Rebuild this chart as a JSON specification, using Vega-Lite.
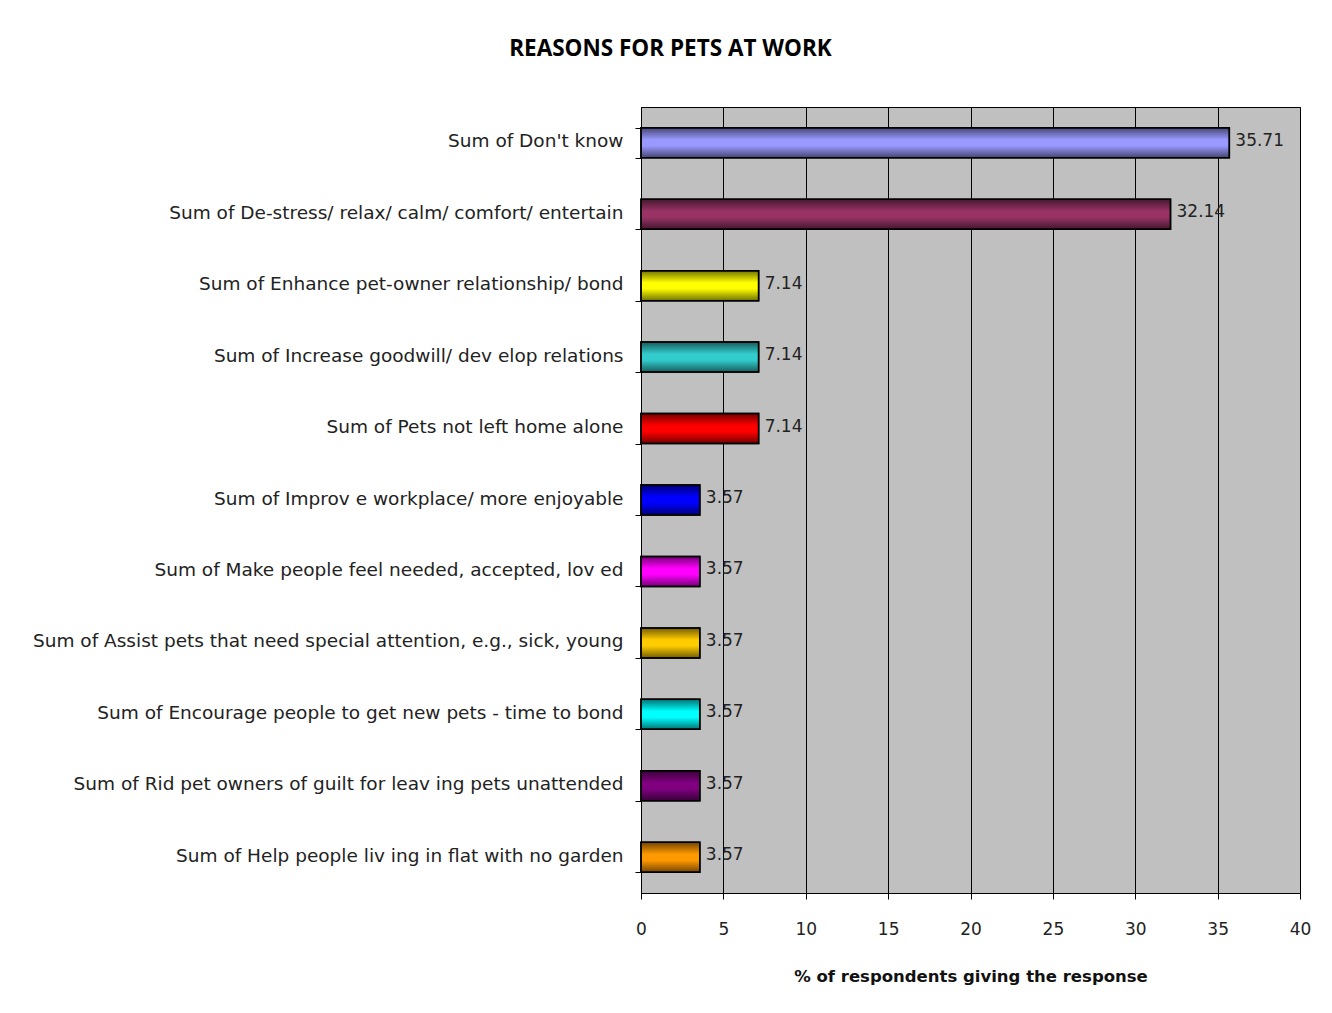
{
  "$schema": "https://vega.github.io/schema/vega-lite/v6.json",
  "autosize": {"type": "none"},
  "width": 659,
  "height": 786,
  "padding": {"left": 641, "top": 107, "right": 32, "bottom": 120},
  "background": "white",
  "title": {
    "text": "REASONS FOR PETS AT WORK",
    "font": "Open Sans",
    "fontSize": 22.5,
    "fontWeight": "bold",
    "color": "#000000",
    "anchor": "middle",
    "dx": -300,
    "offset": 38
  },
  "data": {
    "values": [
      {"reason": "Sum of Don't know", "pct": 35.71},
      {"reason": "Sum of De-stress/ relax/ calm/ comfort/ entertain", "pct": 32.14},
      {"reason": "Sum of Enhance pet-owner relationship/ bond", "pct": 7.14},
      {"reason": "Sum of Increase goodwill/ dev elop relations", "pct": 7.14},
      {"reason": "Sum of Pets not left home alone", "pct": 7.14},
      {"reason": "Sum of Improv e workplace/ more enjoyable", "pct": 3.57},
      {"reason": "Sum of Make people feel needed, accepted, lov ed", "pct": 3.57},
      {"reason": "Sum of Assist pets that need special attention, e.g., sick, young", "pct": 3.57},
      {"reason": "Sum of Encourage people to get new pets - time to bond", "pct": 3.57},
      {"reason": "Sum of Rid pet owners of guilt for leav ing pets unattended", "pct": 3.57},
      {"reason": "Sum of Help people liv ing in flat with no garden", "pct": 3.57}
    ]
  },
  "encoding": {
    "y": {
      "field": "reason",
      "type": "nominal",
      "sort": null,
      "scale": {"paddingInner": 0.58, "paddingOuter": 0.29},
      "axis": {
        "title": null,
        "domainColor": "#000000",
        "domainWidth": 1,
        "tickColor": "#000000",
        "tickSize": 6,
        "tickBand": "extent",
        "labelFont": "DejaVu Sans",
        "labelFontSize": 18.5,
        "labelColor": "#222222",
        "labelPadding": 12,
        "labelLimit": 700,
        "labelBaseline": "middle",
        "labelOffset": -2,
        "grid": false
      }
    },
    "x": {
      "field": "pct",
      "type": "quantitative",
      "scale": {"domain": [0, 40], "nice": false},
      "axis": {
        "title": "% of respondents giving the response",
        "titleFont": "DejaVu Sans",
        "titleFontSize": 16.5,
        "titleFontWeight": "bold",
        "titleColor": "#111111",
        "titlePadding": 31,
        "values": [0, 5, 10, 15, 20, 25, 30, 35, 40],
        "domainColor": "#000000",
        "tickColor": "#000000",
        "tickSize": 6,
        "labelFont": "DejaVu Sans",
        "labelFontSize": 17,
        "labelColor": "#222222",
        "labelPadding": 22,
        "labelFlush": false,
        "grid": true,
        "gridColor": "#000000",
        "gridWidth": 1,
        "gridOpacity": 1
      }
    }
  },
  "layer": [
    {
      "mark": {"type": "bar", "stroke": "#000000", "strokeWidth": 1.5},
      "encoding": {
        "color": {
          "field": "reason",
          "type": "nominal",
          "sort": null,
          "legend": null,
          "scale": {
            "range": ["#9999FF", "#993366", "#FFFF00", "#33CCCC", "#FF0000", "#0000FF", "#FF00FF", "#FFCC00", "#00FFFF", "#800080", "#FF9900"]
          }
        }
      }
    },
    {
      "mark": {
        "type": "bar",
        "strokeWidth": 0,
        "color": {
          "gradient": "linear",
          "x1": 0, "y1": 0, "x2": 0, "y2": 1,
          "stops": [
            {"offset": 0, "color": "rgba(0,0,0,0.55)"},
            {"offset": 0.4, "color": "rgba(0,0,0,0)"},
            {"offset": 0.6, "color": "rgba(0,0,0,0)"},
            {"offset": 1, "color": "rgba(0,0,0,0.55)"}
          ]
        }
      }
    },
    {
      "mark": {"type": "bar", "filled": false, "stroke": "#000000", "strokeWidth": 1.5},
      "encoding": {}
    },
    {
      "mark": {
        "type": "text",
        "align": "left",
        "baseline": "middle",
        "dx": 6,
        "dy": -2,
        "font": "DejaVu Sans",
        "fontSize": 17,
        "color": "#222222"
      },
      "encoding": {
        "text": {"field": "pct", "type": "quantitative", "format": ".2f"}
      }
    }
  ],
  "config": {
    "view": {"fill": "#C0C0C0", "stroke": "#000000", "strokeWidth": 1}
  }
}
